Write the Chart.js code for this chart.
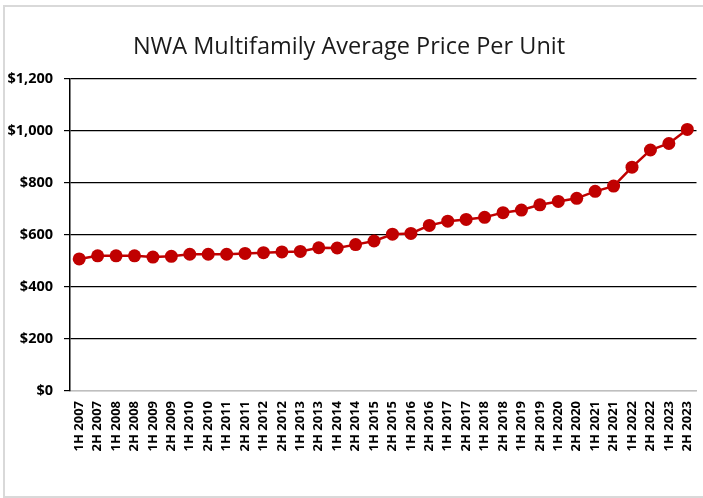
<!DOCTYPE html>
<html>
<head>
<meta charset="utf-8">
<script src="https://cdn.jsdelivr.net/npm/chart.js@4"></script>
<style>
  html, body { margin: 0; padding: 0; background: #fff; }
  body { width: 703px; height: 498px; position: relative; overflow: hidden; }
  #frame { position: absolute; left: 3px; top: 5px; width: 760px; height: 489px; border: 2px solid #d9d9d9; }
  #wrap { position: absolute; left: 0; top: 0; width: 703px; height: 498px; }
</style>
</head>
<body>
<div id="frame"></div>
<div id="wrap"><canvas id="c" width="703" height="498"></canvas></div>
<script>
const categories = [
  "1H 2007","2H 2007","1H 2008","2H 2008","1H 2009","2H 2009","1H 2010","2H 2010",
  "1H 2011","2H 2011","1H 2012","2H 2012","1H 2013","2H 2013","1H 2014","2H 2014",
  "1H 2015","2H 2015","1H 2016","2H 2016","1H 2017","2H 2017","1H 2018","2H 2018",
  "1H 2019","2H 2019","1H 2020","2H 2020","1H 2021","2H 2021","1H 2022","2H 2022",
  "1H 2023","2H 2023"
];
const avgPricePerUnit = [
  508, 520, 520, 520, 515, 518, 526, 526,
  526, 529, 532, 535, 537, 551, 550, 563,
  577, 603, 606, 637, 653, 660, 668, 686,
  696, 716, 729, 741, 768, 788, 861, 927,
  952, 1006
];
const yTicks = [0, 200, 400, 600, 800, 1000, 1200];
const chartTitle = "NWA Multifamily Average Price Per Unit";

const RED = "#C00000";

new Chart(document.getElementById("c"), {
  type: "line",
  data: {
    labels: categories,
    datasets: [{
      data: avgPricePerUnit,
      borderColor: RED,
      backgroundColor: RED,
      borderWidth: 2.5,
      pointRadius: 6.5,
      pointHoverRadius: 6.5,
      pointBackgroundColor: RED,
      pointBorderColor: RED,
      pointBorderWidth: 0,
      tension: 0,
      clip: false
    }]
  },
  options: {
    responsive: false,
    animation: false,
    devicePixelRatio: 1,
    layout: { padding: { left: 0, right: 5, top: 0, bottom: 0 } },
    plugins: {
      legend: { display: false },
      tooltip: { enabled: false },
      title: {
        display: true,
        text: chartTitle,
        color: "#1a1a1a",
        font: { family: "'Open Sans', sans-serif", size: 23.5, weight: "normal", lineHeight: 1.2 },
        padding: { top: 33, bottom: 17.8 }
      }
    },
    scales: {
      x: {
        type: "category",
        offset: true,
        grid: { display: false, drawTicks: false },
        border: { display: true, color: "#bfbfbf", width: 1.5 },
        ticks: {
          autoSkip: false,
          maxRotation: 90,
          minRotation: 90,
          padding: 10,
          color: "#000",
          font: { family: "'Open Sans', sans-serif", size: 13, weight: "bold" }
        },
        afterFit: (s) => { s.height = 107; s.paddingLeft = 0; s.paddingRight = 0; }
      },
      y: {
        min: 0,
        max: 1200,
        afterBuildTicks: (s) => { s.ticks = yTicks.map(v => ({ value: v })); },
        grid: {
          color: (ctx) => ctx.tick && ctx.tick.value === 0 ? "#bfbfbf" : "#000",
          lineWidth: 1.2,
          drawTicks: true,
          tickLength: 6,
          tickColor: "#000"
        },
        border: { display: true, color: "#000", width: 1.5 },
        ticks: {
          padding: 11,
          color: "#000",
          font: { family: "'Open Sans', sans-serif", size: 14.5, weight: "bold" },
          callback: (v) => "$" + Number(v).toLocaleString("en-US")
        },
        afterFit: (s) => { s.width = 70; }
      }
    }
  }
});
</script>
</body>
</html>
